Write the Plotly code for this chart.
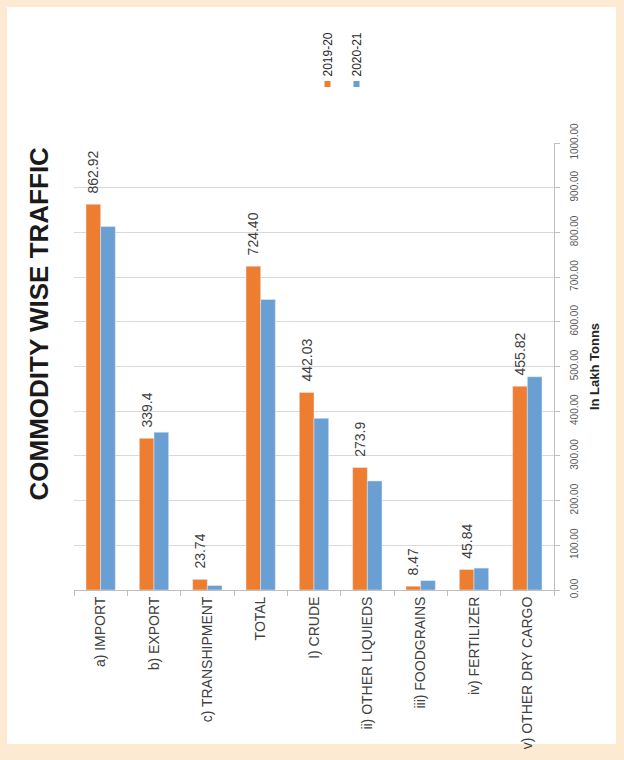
import plotly.graph_objects as go

categories = ["a) IMPORT", "b) EXPORT", "c) TRANSHIPMENT", "TOTAL", "I) CRUDE",
              "ii) OTHER LIQUIEDS", "iii) FOODGRAINS", "iv) FERTILIZER", "v) OTHER DRY CARGO"]
series_names = ["2019-20", "2020-21"]
values_2019_20 = [862.92, 339.4, 23.74, 724.40, 442.03, 273.9, 8.47, 45.84, 455.82]
values_2020_21 = [813, 353, 10, 650, 384, 244, 21, 49, 477]
labels_2019_20 = ["862.92", "339.4", "23.74", "724.40", "442.03", "273.9", "8.47", "45.84", "455.82"]
y_ticks = [0, 100, 200, 300, 400, 500, 600, 700, 800, 900, 1000]

ORANGE = "#ED7D31"
BLUE = "#6A9FD4"
FONT = "Liberation Sans, Arial, sans-serif"
NARROW = "Liberation Sans Narrow, Arial Narrow, Liberation Sans, Arial, sans-serif"

fig = go.Figure()
fig.add_trace(go.Bar(
    x=categories, y=values_2019_20, name=series_names[0], marker_color=ORANGE,
    text=["\u00a0\u00a0" + t for t in labels_2019_20], textposition="outside",
    textangle=-90, textfont=dict(size=14, color="#404040", family=FONT),
    cliponaxis=False, constraintext="none",
))
fig.add_trace(go.Bar(
    x=categories, y=values_2020_21, name=series_names[1], marker_color=BLUE,
))

fig.update_layout(
    width=624, height=760,
    margin=dict(l=74, r=70, t=143, b=170),
    paper_bgcolor="#FCEBD2",
    plot_bgcolor="white",
    barmode="group", bargap=0.45, bargroupgap=0,
    showlegend=False,
    font=dict(family=FONT, color="#404040"),
)
fig.update_xaxes(
    type="category", showgrid=False, showline=True, linecolor="#BFBFBF", linewidth=1,
    ticks="outside", tickson="boundaries", ticklen=5, tickcolor="#BFBFBF",
    tickangle=-90, tickfont=dict(size=14, color="#404040", family=FONT),
)
fig.update_yaxes(
    side="right", range=[0, 1000], tickvals=y_ticks, tickformat=".2f",
    showgrid=True, gridcolor="#D9D9D9", gridwidth=1, zeroline=False,
    showline=True, linecolor="#BFBFBF", linewidth=1,
    ticks="outside", ticklen=5, tickcolor="#BFBFBF",
    tickangle=-90, tickfont=dict(size=10, color="#595959", family=NARROW),
    ticklabelstandoff=6,
    title=dict(text="<b>In Lakh Tonns</b>", font=dict(size=13, color="#262626", family=FONT), standoff=10),
)

# white inner panel
fig.add_shape(type="rect", xref="paper", yref="paper",
              x0=(7 - 74) / 480, x1=(616 - 74) / 480,
              y0=(590 - 744) / 447, y1=(590 - 7) / 447,
              fillcolor="white", line=dict(width=0), layer="below")

# title
fig.add_annotation(text="<b>COMMODITY WISE TRAFFIC</b>", xref="paper", yref="paper",
                   x=(38.5 - 74) / 480, y=(590 - 324) / 447, xanchor="center", yanchor="middle",
                   textangle=-90, showarrow=False,
                   font=dict(size=26, color="#1a1a1a", family=FONT))

# manual rotated legend
for name, color, px in [(series_names[0], ORANGE, 327.5), (series_names[1], BLUE, 356.5)]:
    xp = (px - 74) / 480
    fig.add_shape(type="rect", xref="paper", yref="paper", xsizemode="pixel", ysizemode="pixel",
                  xanchor=xp, yanchor=(590 - 84) / 447, x0=-3, x1=3, y0=-3, y1=3,
                  fillcolor=color, line=dict(width=0))
    fig.add_annotation(text=name, xref="paper", yref="paper", x=xp, y=(590 - 79) / 447,
                       xanchor="center", yanchor="bottom", textangle=-90, showarrow=False,
                       font=dict(size=12, color="#262626", family=FONT))

fig.write_html("out.html", config={"displayModeBar": False})

with open("out.html", "r", encoding="utf-8") as f:
    html = f.read()
html = html.replace("<head>", "<head><style>html,body{margin:0;padding:0;overflow:hidden;}</style>", 1)
with open("out.html", "w", encoding="utf-8") as f:
    f.write(html)
